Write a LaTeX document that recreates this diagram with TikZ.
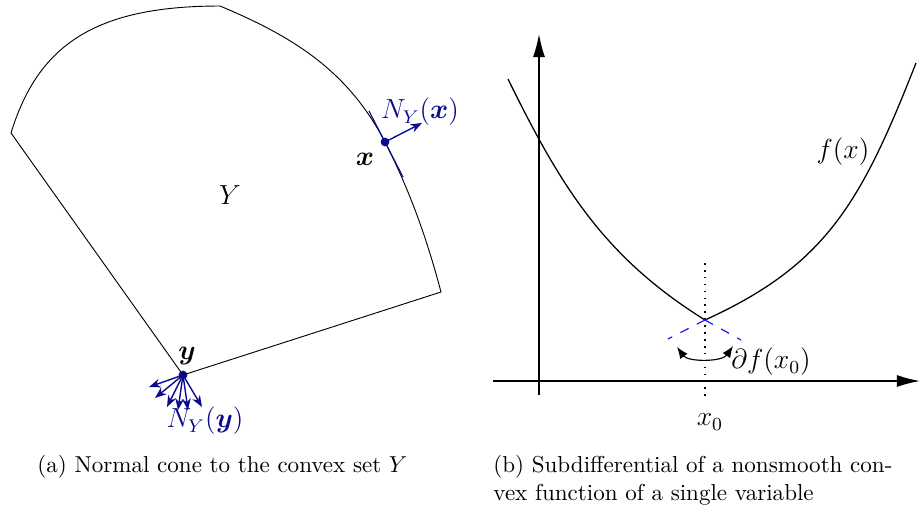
\documentclass[tikz,border=0pt]{standalone}
\usepackage{amsmath, amssymb}
\usepackage{xcolor}
\usepackage{tikz}
\usetikzlibrary{arrows, arrows.meta, positioning, calc}

\definecolor{conenavy}{RGB}{10,10,140}
\definecolor{subblue}{RGB}{20,20,255}

\begin{document}
\begin{tikzpicture}[
    x=0.434pt, y=-0.434pt,
    dot/.style={circle, fill=conenavy, inner sep=0pt, minimum size=3.8pt},
    normal/.style={conenavy, line width=0.6pt, -{Stealth[length=5pt, width=3.8pt]}},
    axis/.style={line width=0.6pt, -{Latex[length=10pt, width=5.2pt]}},
    subdash/.style={subblue, line width=0.5pt, dash pattern=on 4pt off 4pt},
    lbl/.style={font=\large, inner sep=1pt},
    caption/.style={anchor=west, align=left, inner sep=0pt}
]
\useasboundingbox (0,0) rectangle (921,514);

% (a) Normal cone
\coordinate (cornerL) at (11,133);
\coordinate (top) at (220,6);
\coordinate (cornerR) at (441,292);
\node (ptx) [dot] at (385,142) {};
\node (pty) [dot] at (183,375) {};
\draw (cornerL) .. controls (38,45) and (95,6) .. (top)
    .. controls (294,37) and (348,71) .. (ptx.center)
    .. controls (410,191) and (427,239) .. (cornerR) -- (pty.center) -- cycle;

\coordinate (tanA) at (369,111);
\coordinate (tanB) at (403,177);
\draw[conenavy, line width=0.5pt] (tanA) -- (tanB);
\coordinate (nx) at (422,123);
\draw[normal] (ptx.center) -- (nx);

\foreach \tx/\ty [count=\i] in {149/387, 155/398, 167/407, 178/410, 188/410, 202/407} {
    \coordinate (tip\i) at (\tx,\ty);
    \draw[normal] (pty.center) -- (tip\i);
}

\node (lblY) [lbl] at (230,195) {$Y$};
\node (lblx) [lbl] at (365,159) {$\boldsymbol{x}$};
\node (lblNx) [lbl, text=conenavy] at (420,112) {$N_Y(\boldsymbol{x})$};
\node (lbly) [lbl] at (187,356) {$\boldsymbol{y}$};
\node (lblNy) [lbl, text=conenavy] at (205,421) {$N_Y(\boldsymbol{y})$};

% (b) Subdifferential
\coordinate (xaxL) at (493,381);
\coordinate (xaxR) at (920,381);
\coordinate (yaxB) at (539,395);
\coordinate (yaxT) at (539,34);
\draw[axis] (xaxL) -- (xaxR);
\draw[axis] (yaxB) -- (yaxT);

\coordinate (fL) at (508,79);
\coordinate (fmin) at (705,320);
\coordinate (fR) at (916,63);
\draw[line width=0.55pt] (fL) .. controls (561,187) and (604,257) .. (fmin)
    .. controls (826,265) and (861,203) .. (fR);

\coordinate (dotT) at (705,263);
\coordinate (dotB) at (705,400);
\draw[line width=0.7pt, dash pattern=on 0.7pt off 2.3pt] (dotT) -- (dotB);

\coordinate (dashL) at (668,339);
\coordinate (dashR) at (741,340);
\draw[subdash] (fmin) -- (dashL);
\draw[subdash] (fmin) -- (dashR);

\coordinate (arcL) at (677,347);
\coordinate (arcR) at (733,346);
\draw[line width=0.5pt, {Latex[length=5pt, width=4pt]}-{Latex[length=5pt, width=4pt]}]
    (arcL) .. controls (688,362) and (722,362) .. (arcR);

\node (lblf) [lbl] at (843,152) {$f(x)$};
\node (lbldf) [lbl] at (771,362) {$\partial f(x_0)$};
\node (lblx0) [lbl] at (710,422) {$x_0$};

% Captions
\node (capa) [caption] at (37,467) {(a) Normal cone to the convex set $Y$};
\node (capb) [caption] at (493,480.5) {(b) Subdifferential of a nonsmooth con-\\vex function of a single variable};

\end{tikzpicture}
\end{document}
